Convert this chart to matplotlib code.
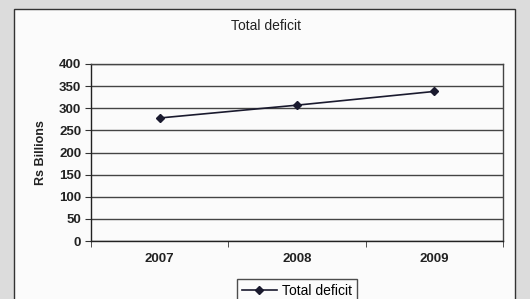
import matplotlib
matplotlib.use('Agg')
import matplotlib.pyplot as plt
from matplotlib.patches import Rectangle

# Chart data
years = ['2007', '2008', '2009']
total_deficit = [278, 307, 338]
y_ticks = [0, 50, 100, 150, 200, 250, 300, 350, 400]

plt.rcParams['font.family'] = ['Liberation Sans', 'DejaVu Sans']

fig = plt.figure(figsize=(5.3, 2.99), dpi=100)
fig.patch.set_facecolor('#dcdcdc')

# White chart frame (cut off at the bottom like the scan)
frame = Rectangle((14 / 530, -0.1), (515 - 14) / 530, 1.1 - 9 / 299,
                  transform=fig.transFigure, facecolor='#fbfbfb',
                  edgecolor='#333333', linewidth=1.0, zorder=-5)
fig.patches.append(frame)

ax = fig.add_axes([91 / 530, 1 - 241 / 299, (503 - 91) / 530, (241 - 64) / 299])
ax.set_zorder(2)
ax.set_facecolor('#fbfbfb')

x = list(range(len(years)))
ax.plot(x, total_deficit, color='#1a1a2e', linewidth=1.2, marker='D',
        markersize=4.5, label='Total deficit', zorder=3)

ax.set_xlim(-0.5, len(years) - 0.5)
ax.set_ylim(0, 400)
ax.set_yticks(y_ticks)
ax.set_xticks(x)
ax.set_xticklabels(years)
ax.set_xticks([-0.5, 0.5, 1.5, 2.5], minor=True)
ax.tick_params(axis='x', which='major', length=0, pad=9)
ax.tick_params(axis='x', which='minor', length=4, direction='out', color='#333333')
ax.tick_params(axis='y', length=4, direction='out', color='#333333', pad=3)
for lab in ax.get_xticklabels() + ax.get_yticklabels():
    lab.set_fontsize(9.5)
    lab.set_fontweight('bold')
    lab.set_color('#222222')

ax.grid(True, axis='y', color='#444444', linewidth=1.0)
ax.set_axisbelow(True)
for side, sp in ax.spines.items():
    sp.set_color('#444444')
    sp.set_linewidth(1.0)
ax.spines['left'].set_color('#222222')
ax.spines['bottom'].set_color('#222222')

ax.set_ylabel('Rs Billions', fontsize=9, fontweight='bold', color='#222222',
              labelpad=9)

fig.text(266 / 530, 1 - 26 / 299, 'Total deficit', ha='center', va='center',
         fontsize=10, color='#222222')

leg = fig.legend(loc='upper center', bbox_to_anchor=(297 / 530, 1 - 279 / 299),
                 frameon=True, fancybox=False, fontsize=10, handlelength=2.5,
                 borderpad=0.35, handletextpad=0.4, borderaxespad=0)
leg.get_frame().set_edgecolor('#222222')
leg.get_frame().set_linewidth(1.0)
leg.get_frame().set_facecolor('#fbfbfb')

fig.savefig('out.png', dpi=100, facecolor=fig.get_facecolor())
